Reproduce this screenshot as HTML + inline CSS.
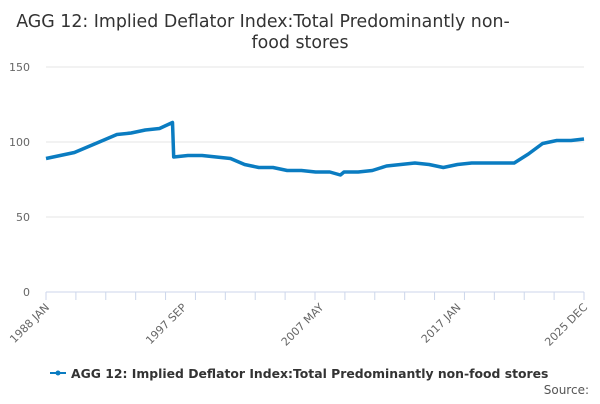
<!DOCTYPE html>
<html><head><meta charset="utf-8"><style>
body{margin:0;background:#fff;font-family:"DejaVu Sans","Liberation Sans",sans-serif}
</style></head><body>
<svg width="600" height="400" id="c" xmlns="http://www.w3.org/2000/svg" font-family="DejaVu Sans, Liberation Sans, sans-serif">
<text x="263" y="27" text-anchor="middle" font-size="17.4" fill="#333">AGG 12: Implied Deflator Index:Total Predominantly non-</text>
<text x="300" y="48" text-anchor="middle" font-size="17.4" fill="#333">food stores</text>
<g id="grid"></g><g id="xax"></g><g id="series"></g>
<g>
<line x1="50" y1="373" x2="66" y2="373" stroke="#0a7cc1" stroke-width="2"/>
<circle cx="58" cy="373" r="2.5" fill="#0a7cc1"/>
<text x="71" y="378" font-size="12.4" font-weight="bold" fill="#333">AGG 12: Implied Deflator Index:Total Predominantly non-food stores</text>
</g>
<text x="589" y="394" text-anchor="end" font-size="12" fill="#555">Source:</text>
</svg>
<script>
const monthIdx=[0,12,24,36,48,60,72,84,96,107,108,120,132,144,156,168,180,192,204,216,228,240,252,249,264,276,288,300,312,324,336,348,360,372,384,396,408,420,432,444,455];
const values=[89,91,93,97,101,105,106,108,109,113,90,91,91,90,89,85,83,83,81,81,80,80,80,78,80,81,84,85,86,85,83,85,86,86,86,86,92,99,101,101,102];
const yTicks=[0,50,100,150];
const xTickLabels=["1988 JAN","1997 SEP","2007 MAY","2017 JAN","2025 DEC"];
const xTickMonths=[0,116,232,348,455];
const NS="http://www.w3.org/2000/svg";
const x0=46,x1=584,y0=292,y1=67;
const X=m=>x0+(x1-x0)*m/455;
const Y=v=>y0-(y0-y1)*v/150;
function mk(t,a,p){const e=document.createElementNS(NS,t);for(const k in a)e.setAttribute(k,a[k]);p.appendChild(e);return e;}
const g=document.getElementById('grid');
yTicks.forEach(v=>{
 const l=mk('line',{x1:x0,x2:x1,y1:Y(v),y2:Y(v),stroke:v===0?'#ccd6eb':'#e6e6e6'},g);
 
 
 const t=mk('text',{x:30,y:Y(v)+4,'text-anchor':'end','font-size':11,fill:'#666'},g);
 t.textContent=v;
 
 
});
const xa=document.getElementById('xax');
for(let i=0;i<=18;i++){
 const m=i*455/18;
 const tk=mk('line',{x1:X(m),x2:X(m),y1:y0,y2:y0+8,stroke:'#ccd6eb'},xa);
 
 
}
xTickLabels.forEach((s,i)=>{
 const x=X(xTickMonths[i]);
 const t=mk('text',{x:x+4,y:y0+16,'text-anchor':'end','font-size':11,fill:'#666',transform:`rotate(-45 ${x+4} ${y0+16})`},xa);
 t.textContent=s;
 
 
});
const pts=monthIdx.map((m,i)=>[m,values[i]]).sort((a,b)=>a[0]-b[0]);
const d=pts.map((p,i)=>(i?'L':'M')+X(p[0]).toFixed(1)+' '+Y(p[1]).toFixed(1)).join(' ');
const path=mk('path',{d:d,fill:'none',stroke:'#0a7cc1','stroke-width':3.5,'stroke-linejoin':'round'},document.getElementById('series'));


</script>
</body></html>
